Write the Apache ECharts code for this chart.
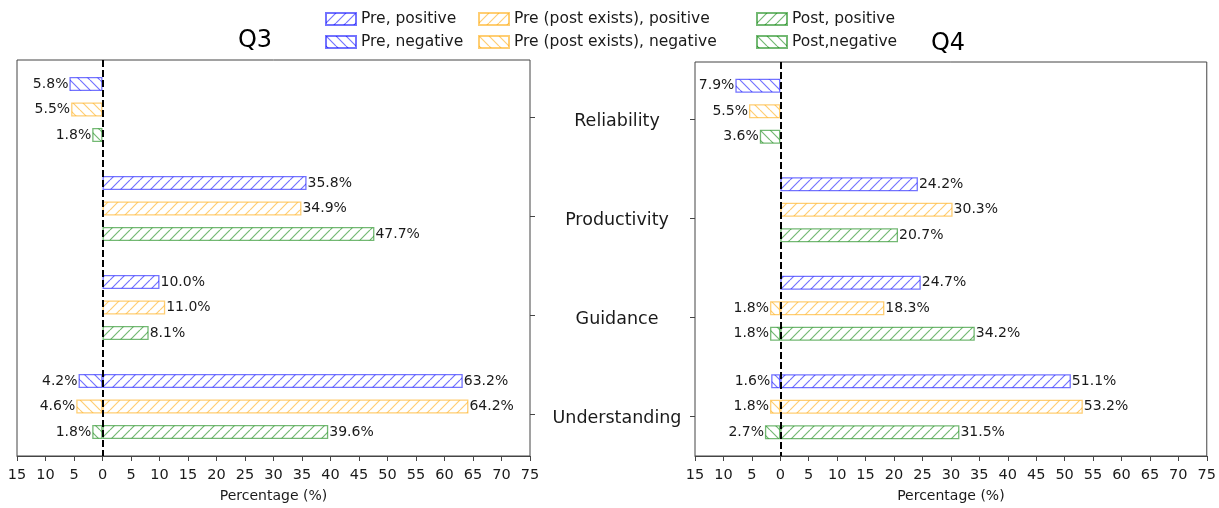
<!DOCTYPE html>
<html>
<head>
<meta charset="utf-8">
<script src="https://cdn.jsdelivr.net/npm/echarts@6/dist/echarts.min.js"></script>
<style>
html,body{margin:0;padding:0;background:#fff;}
#c{width:1219px;height:508px;}
</style>
</head>
<body>
<div id="c"></div>
<script>
const categories = ['Reliability', 'Productivity', 'Guidance', 'Understanding'];
const seriesNames = ['Pre, positive', 'Pre, negative', 'Pre (post exists), positive', 'Pre (post exists), negative', 'Post, positive', 'Post,negative'];

const q3PrePos      = [0, 35.8, 10.0, 63.2];
const q3PreNeg      = [5.8, 0, 0, 4.2];
const q3PrePostPos  = [0, 34.9, 11.0, 64.2];
const q3PrePostNeg  = [5.5, 0, 0, 4.6];
const q3PostPos     = [0, 47.7, 8.1, 39.6];
const q3PostNeg     = [1.8, 0, 0, 1.8];

const q4PrePos      = [0, 24.2, 24.7, 51.1];
const q4PreNeg      = [7.9, 0, 0, 1.6];
const q4PrePostPos  = [0, 30.3, 18.3, 53.2];
const q4PrePostNeg  = [5.5, 0, 1.8, 1.8];
const q4PostPos     = [0, 20.7, 34.2, 31.5];
const q4PostNeg     = [3.6, 0, 1.8, 2.7];

const colors = ['rgba(0,0,255,0.55)', 'rgba(255,165,0,0.55)', 'rgba(0,128,0,0.55)'];
const FONT = 'DejaVu Sans';
const TXT = '#1a1a1a';
const AX = '#444';

function hatch(rgba, dir) {
  const s = 10;
  const c = document.createElement('canvas');
  c.width = s; c.height = s;
  const g = c.getContext('2d');
  g.strokeStyle = rgba;
  g.lineWidth = 1.2;
  g.beginPath();
  for (const o of [-s, 0, s]) {
    if (dir === '/') { g.moveTo(o, s); g.lineTo(o + s, 0); }
    else { g.moveTo(o, 0); g.lineTo(o + s, s); }
  }
  g.stroke();
  return { image: c, repeat: 'repeat' };
}

function mk(nameIdx, vals, neg, axisIdx, colorIdx, withZeroLine) {
  const s = {
    type: 'bar',
    name: seriesNames[nameIdx],
    xAxisIndex: axisIdx,
    yAxisIndex: axisIdx,
    stack: 'p' + axisIdx + '_' + colorIdx,
    barWidth: 14,
    barGap: '82%',
    data: vals.map(v => v === 0 ? '-' : (neg ? -v : v)),
    itemStyle: { color: hatch(colors[colorIdx], neg ? '\\' : '/'), borderColor: colors[colorIdx], borderWidth: 1.3 },
    label: {
      show: true, position: neg ? 'left' : 'right', distance: 1,
      formatter: p => Math.abs(p.value).toFixed(1) + '%',
      fontSize: 14, color: TXT, fontFamily: FONT
    },
    emphasis: { disabled: true }
  };
  if (withZeroLine) {
    s.markLine = {
      silent: true, symbol: 'none', label: { show: false },
      lineStyle: { color: '#000', type: [7, 3], width: 2 },
      data: [{ xAxis: 0 }]
    };
  }
  return s;
}

function valueAxis(gridIndex) {
  return {
    type: 'value', gridIndex, min: -15, max: 75, interval: 5,
    axisLine: { show: true, onZero: false, lineStyle: { color: AX, width: 1 } },
    axisTick: { show: true, length: 5, lineStyle: { color: AX } },
    axisLabel: { formatter: v => String(Math.abs(v)), fontSize: 14.5, color: TXT, fontFamily: FONT, margin: 12 },
    splitLine: { show: false },
    name: 'Percentage (%)', nameLocation: 'middle', nameGap: 33,
    nameTextStyle: { fontSize: 14, color: TXT, fontFamily: FONT }
  };
}
function hiddenX(gridIndex) {
  return { type: 'value', gridIndex, min: -15, max: 75, show: false, axisLine: { onZero: false } };
}
function barY(gridIndex) {
  return {
    type: 'category', gridIndex, data: categories, inverse: true,
    axisLine: { show: false, onZero: false }, axisTick: { show: false }, axisLabel: { show: false }, splitLine: { show: false }
  };
}
function tickY(gridIndex, position, showLabel) {
  return {
    type: 'category', gridIndex, data: categories, inverse: true, boundaryGap: false, position,
    axisLine: { show: false, onZero: false },
    axisTick: { show: true, length: 5, lineStyle: { color: AX } },
    axisLabel: { show: showLabel, margin: 78, align: 'center', verticalAlign: 'top', lineHeight: 5, fontSize: 17.5, color: TXT, fontFamily: FONT },
    splitLine: { show: false }
  };
}

const legendBase = {
  orient: 'vertical', top: 11, padding: 0, itemWidth: 30, itemHeight: 12, itemGap: 7,
  icon: 'rect', textStyle: { fontSize: 15.5, color: TXT, fontFamily: FONT }, selectedMode: false
};

const option = {
  animation: false,
  textStyle: { fontFamily: FONT },
  legend: [
    Object.assign({}, legendBase, { left: 325, data: [seriesNames[0], seriesNames[1]] }),
    Object.assign({}, legendBase, { left: 478, data: [seriesNames[2], seriesNames[3]] }),
    Object.assign({}, legendBase, { left: 756, data: [seriesNames[4], seriesNames[5]] })
  ],
  graphic: [
    { type: 'text', x: 255, y: 41, style: { text: 'Q3', fill: '#000', font: '24px "DejaVu Sans"', textAlign: 'center', textVerticalAlign: 'middle' } },
    { type: 'text', x: 948, y: 44, style: { text: 'Q4', fill: '#000', font: '24px "DejaVu Sans"', textAlign: 'center', textVerticalAlign: 'middle' } }
  ],
  grid: [
    { left: 17, right: 689, top: 60, height: 397, show: true, borderColor: AX, borderWidth: 1, backgroundColor: 'transparent' },
    { left: 17, right: 689, top: 117, height: 297 },
    { left: 695, right: 12, top: 62, height: 397, show: true, borderColor: AX, borderWidth: 1, backgroundColor: 'transparent' },
    { left: 695, right: 12, top: 119, height: 297 }
  ],
  xAxis: [valueAxis(0), hiddenX(1), valueAxis(2), hiddenX(3)],
  yAxis: [barY(0), tickY(1, 'right', false), barY(2), tickY(3, 'left', true)],
  series: [
    mk(0, q3PrePos, false, 0, 0, true),
    mk(1, q3PreNeg, true, 0, 0, false),
    mk(2, q3PrePostPos, false, 0, 1, false),
    mk(3, q3PrePostNeg, true, 0, 1, false),
    mk(4, q3PostPos, false, 0, 2, false),
    mk(5, q3PostNeg, true, 0, 2, false),
    mk(0, q4PrePos, false, 2, 0, true),
    mk(1, q4PreNeg, true, 2, 0, false),
    mk(2, q4PrePostPos, false, 2, 1, false),
    mk(3, q4PrePostNeg, true, 2, 1, false),
    mk(4, q4PostPos, false, 2, 2, false),
    mk(5, q4PostNeg, true, 2, 2, false)
  ]
};

const chart = echarts.init(document.getElementById('c'), null, { renderer: 'canvas' });
chart.setOption(option);
</script>
</body>
</html>
